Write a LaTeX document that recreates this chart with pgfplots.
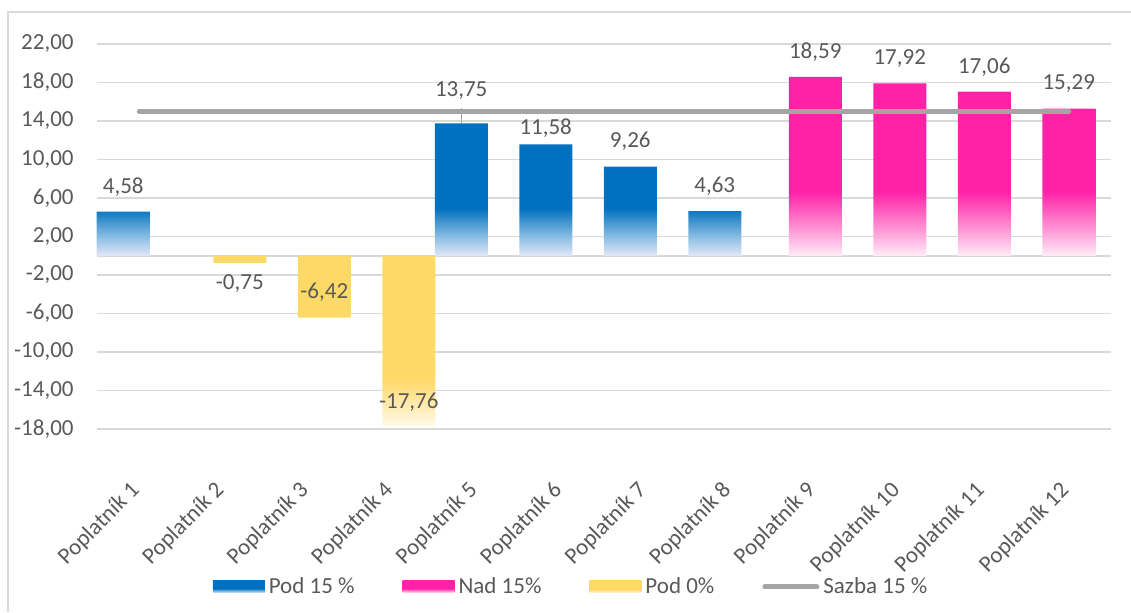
\documentclass[border=0pt]{standalone}
\usepackage{fontspec}
\setmainfont{Carlito}
\usepackage{pgfplots}
\pgfplotsset{compat=1.18}
\definecolor{txt}{HTML}{595959}
\definecolor{gridc}{HTML}{D9D9D9}
\definecolor{blueS}{HTML}{0070C0}
\definecolor{blueL}{HTML}{E2E8F8}
\definecolor{pinkS}{HTML}{FF21A6}
\definecolor{pinkL}{HTML}{FFECF6}
\definecolor{yelS}{HTML}{FFD966}
\definecolor{yelL}{HTML}{FFFAEC}
\definecolor{lineg}{HTML}{A5A5A5}
\newcommand\fs{\fontsize{11.5}{13.8}\selectfont}

% bars: solid at the top, fading out towards the base
\pgfdeclareverticalshading{bluefade}{100bp}{color(0bp)=(blueL); color(25bp)=(blueL); color(32bp)=(blueS!45!white); color(43bp)=(blueS); color(100bp)=(blueS)}
\pgfdeclareverticalshading{pinkfade}{100bp}{color(0bp)=(pinkL); color(25bp)=(pinkL); color(32bp)=(pinkS!45!white); color(43bp)=(pinkS); color(100bp)=(pinkS)}
\pgfdeclareverticalshading{yelfade}{100bp}{color(0bp)=(yelL); color(25bp)=(yelL); color(31bp)=(yelS!50!white); color(39bp)=(yelS); color(100bp)=(yelS)}

\begin{document}
\begin{tikzpicture}
\begin{axis}[
    name=ax,
    scale only axis,
    width=507pt, height=192.5pt,
    xmin=0.5, xmax=12.5,
    ymin=-18, ymax=22,
    clip=false,
    axis line style={draw=none},
    major tick length=0pt,
    ytick={-18,-14,...,22},
    xtick={1,...,12},
    xticklabels={Poplatník 1,Poplatník 2,Poplatník 3,Poplatník 4,Poplatník 5,Poplatník 6,Poplatník 7,Poplatník 8,Poplatník 9,Poplatník 10,Poplatník 11,Poplatník 12},
    ymajorgrids,
    grid style={gridc, line width=0.75pt},
    extra y ticks={0},
    extra y tick labels={},
    extra y tick style={grid=major},
    yticklabel style={font=\fs, text=txt, inner sep=0pt, xshift=-11.5pt,
        /pgf/number format/.cd, fixed, fixed zerofill, precision=2, use comma, assume math mode=true},
    xticklabel style={font=\fs, text=txt, inner sep=0pt, anchor=east, xshift=-1.5pt, yshift=-29pt, rotate=45},
    legend columns=4,
    legend style={at={(0.4685,-0.41)}, anchor=center, draw=none, fill=none,
        font=\fs, text=txt, /tikz/every even column/.append style={column sep=22pt}},
]
\addplot[ybar, bar width=26.5pt, bar shift=-8pt, draw=none, shading=bluefade,
    legend image code/.code={\shade[shading=bluefade] (0pt,-3pt) rectangle (26pt,3pt);}]
    coordinates {(1,4.58) (5,13.75) (6,11.58) (7,9.26) (8,4.63)};
\addlegendentry{Pod 15 \%}
\addplot[ybar, bar width=26.5pt, bar shift=0pt, draw=none, shading=pinkfade,
    legend image code/.code={\shade[shading=pinkfade] (0pt,-3pt) rectangle (26pt,3pt);}]
    coordinates {(9,18.59) (10,17.92) (11,17.06) (12,15.29)};
\addlegendentry{Nad 15\%}
\addplot[ybar, bar width=26.5pt, bar shift=8pt, draw=none, shading=yelfade,
    legend image code/.code={\shade[shading=yelfade] (0pt,-3pt) rectangle (26pt,3pt);}]
    coordinates {(2,-0.75) (3,-6.42) (4,-17.76)};
\addlegendentry{Pod 0\%}
% leader line of the 13,75 label
\addplot[lineg, line width=0.6pt, mark=none, forget plot] coordinates {(4.81,13.75) (4.81,15.3)};
\addplot[lineg, line width=2.5pt, line cap=round, mark=none,
    legend image code/.code={\draw[lineg, line width=2.5pt, line cap=round] (0pt,0pt) -- (26pt,0pt);}]
    coordinates {(1,15) (12,15)};
\addlegendentry{Sazba 15 \%}
% data labels
\addplot[draw=none, mark=none, forget plot, nodes near coords, point meta=explicit symbolic,
    nodes near coords style={anchor=center, font=\fs, text=txt, inner sep=0pt}]
    table[meta=lab] {
x y lab
0.81 7.14 4,58
2.19 -2.93 -0,75
3.19 -3.77 -6,42
4.19 -15.19 -17,76
4.81 17.22 13,75
5.81 13.24 11,58
6.81 11.85 9,26
7.81 7.19 4,63
9 21.16 18,59
10 20.51 17,92
11 19.64 17,06
12 17.92 15,29
};
\end{axis}
\draw[gridc, line width=0.75pt] ([shift={(-44.5pt,-91.5pt)}]ax.south west) -- ([shift={(-44.5pt,208.5pt)}]ax.south west) -- ([shift={(517pt,208.5pt)}]ax.south west);
\pgfresetboundingbox
\path[use as bounding box] ([shift={(-48.5pt,-91.5pt)}]ax.south west) rectangle ([shift={(517pt,214.5pt)}]ax.south west);
\end{tikzpicture}
\end{document}
